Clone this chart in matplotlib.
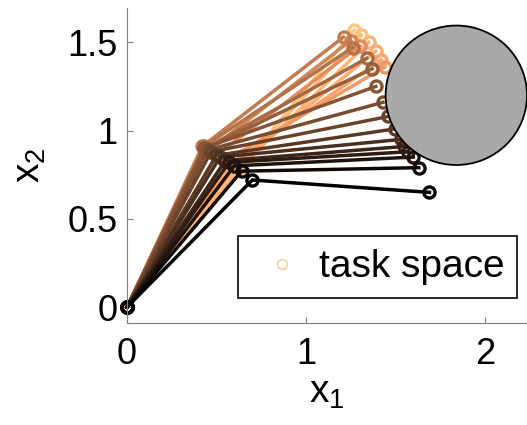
import matplotlib.pyplot as plt
from matplotlib.patches import Circle
from matplotlib.lines import Line2D
import numpy as np

plt.rcParams['font.family'] = ['Liberation Sans', 'DejaVu Sans']
plt.rcParams['mathtext.fontset'] = 'custom'
plt.rcParams['mathtext.rm'] = 'Liberation Sans'

# arm configurations (base -> elbow -> tip), light to dark
elbow_x = [0.63, 0.62, 0.62, 0.60, 0.58, 0.55, 0.50, 0.46, 0.42, 0.43, 0.44,
           0.44, 0.43, 0.45, 0.47, 0.50, 0.52, 0.55, 0.57, 0.60, 0.64, 0.70]
elbow_y = [0.78, 0.79, 0.78, 0.80, 0.81, 0.83, 0.86, 0.89, 0.91, 0.91, 0.90,
           0.90, 0.90, 0.89, 0.88, 0.86, 0.85, 0.83, 0.82, 0.80, 0.77, 0.72]
tip_x = [1.27, 1.31, 1.35, 1.39, 1.42, 1.44, 1.30, 1.25, 1.21, 1.26, 1.34,
         1.37, 1.39, 1.43, 1.46, 1.50, 1.53, 1.55, 1.57, 1.60, 1.63, 1.69]
tip_y = [1.57, 1.54, 1.50, 1.45, 1.40, 1.36, 1.48, 1.51, 1.53, 1.47, 1.41,
         1.35, 1.25, 1.16, 1.08, 1.01, 0.95, 0.91, 0.88, 0.85, 0.79, 0.65]

# obstacle
obs_center = (1.84, 1.20)
obs_radius = 0.395

n = len(elbow_x)
cols = plt.cm.copper(np.linspace(1.0, 0.0, n))

fig = plt.figure(figsize=(5.27, 4.25), dpi=100)
ax = fig.add_axes([0.241, 0.24, 0.759, 0.741])

for i in range(n):
    ax.plot([0, elbow_x[i], tip_x[i]], [0, elbow_y[i], tip_y[i]], '-o',
            color=cols[i], lw=2.5, ms=8, mew=2.4, mfc='none',
            clip_on=False, zorder=2)

ax.add_patch(Circle(obs_center, obs_radius, facecolor='#a9a9a9',
                    edgecolor='black', lw=1.3, zorder=5))

ax.set_xlim(0, 2.235)
ax.set_ylim(-0.09, 1.694)
ax.set_xticks([0, 1, 2])
ax.set_yticks([0, 0.5, 1, 1.5])
ax.set_yticklabels(['0', '0.5', '1', '1.5'])
ax.tick_params(direction='in', length=4, color='#808080', labelsize=26)
ax.tick_params(axis='x', pad=10)
ax.tick_params(axis='y', pad=7)
for s in ['top', 'right']:
    ax.spines[s].set_visible(False)
for s in ['left', 'bottom']:
    ax.spines[s].set_color('#808080')

ax.set_xlabel(r'$\mathregular{x_1}$', fontsize=28, labelpad=2)
ax.set_ylabel(r'$\mathregular{x_2}$', fontsize=28, labelpad=14)

proxy = Line2D([], [], ls='none', marker='o', ms=7, mew=1, mfc='none',
               color=cols[0])
leg = ax.legend([proxy], ['task space'], loc='lower right',
                bbox_to_anchor=(0.975, 0.079), borderaxespad=0, fontsize=28,
                fancybox=False, framealpha=1, edgecolor='black',
                borderpad=0.33, handletextpad=0.15, handlelength=1.6)
leg.get_frame().set_linewidth(1.2)
leg.set_zorder(10)

plt.savefig('out.png', dpi=100)
